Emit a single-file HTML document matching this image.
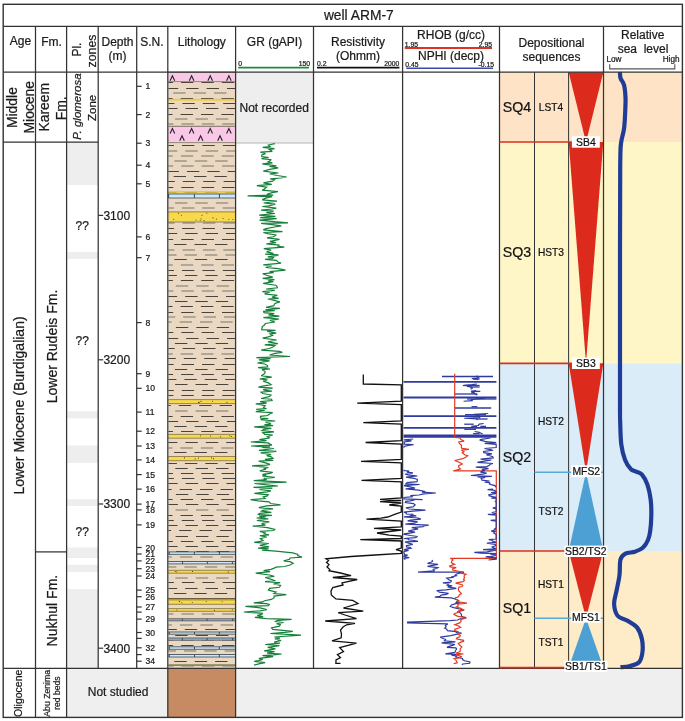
<!DOCTYPE html>
<html><head><meta charset="utf-8"><style>
html,body{margin:0;padding:0;background:#fff;overflow:hidden}
svg{display:block;will-change:transform}
text{font-family:"Liberation Sans",sans-serif;stroke:#1a1a1a;stroke-width:0.22px;paint-order:stroke}
</style></head><body>
<svg width="685" height="721" viewBox="0 0 685 721" font-family="Liberation Sans, sans-serif">
<rect x="0" y="0" width="685" height="721" fill="#ffffff" />
<rect x="499.5" y="72.2" width="182.89999999999998" height="69.8" fill="#FEE3C6" />
<rect x="499.5" y="142.0" width="182.89999999999998" height="221.39999999999998" fill="#FFF6C8" />
<rect x="499.5" y="363.4" width="182.89999999999998" height="187.60000000000002" fill="#DAECF8" />
<rect x="499.5" y="551.0" width="182.89999999999998" height="117.29999999999995" fill="#FEEBC8" />
<rect x="66.6" y="142" width="31.60000000000001" height="43" fill="#EEEEEE" />
<rect x="66.6" y="252" width="31.60000000000001" height="7" fill="#EEEEEE" />
<rect x="66.6" y="411.3" width="31.60000000000001" height="7.0" fill="#EEEEEE" />
<rect x="66.6" y="445.5" width="31.60000000000001" height="17.5" fill="#EEEEEE" />
<rect x="66.6" y="499.2" width="31.60000000000001" height="6.800000000000011" fill="#EEEEEE" />
<rect x="66.6" y="547.5" width="31.60000000000001" height="10.5" fill="#EEEEEE" />
<rect x="66.6" y="564.8" width="31.60000000000001" height="7.2000000000000455" fill="#EEEEEE" />
<rect x="66.6" y="589" width="31.60000000000001" height="79.29999999999995" fill="#EEEEEE" />
<rect x="235.6" y="72.2" width="77.9" height="70.8" fill="#EEEEEE" />
<line x1="235.6" y1="143" x2="313.5" y2="143" stroke="#b5b5b5" stroke-width="1.2" />
<rect x="66.6" y="668.3" width="101.20000000000002" height="49.10000000000002" fill="#EFEFEF" />
<rect x="235.6" y="668.3" width="446.79999999999995" height="49.10000000000002" fill="#EFEFEF" />
<rect x="167.8" y="668.3" width="67.79999999999998" height="49.10000000000002" fill="#C68B62" />
<rect x="168.4" y="72.2" width="66.6" height="596.0999999999999" fill="#EAD8C3" />
<path d="M173.9 77.5H186.3M194.3 77.5H206.7M214.7 77.5H227.1" stroke="#4a433c" stroke-width="1.0" fill="none"/>
<path d="M168.4 82.5H173.0M181.0 82.5H193.4M201.4 82.5H213.8M221.8 82.5H234.2" stroke="#4a433c" stroke-width="1.0" fill="none"/>
<path d="M168.4 88.5H178.2M186.2 88.5H198.6M206.6 88.5H219.0M227.0 88.5H235.0" stroke="#4a433c" stroke-width="1.0" fill="none"/>
<path d="M173.2 93.0H185.6M193.6 93.0H206.0M214.0 93.0H226.4" stroke="#a09686" stroke-width="1.6" fill="none"/>
<path d="M168.4 98.5H172.7M180.7 98.5H193.1M201.1 98.5H213.5M221.5 98.5H233.9" stroke="#4a433c" stroke-width="1.0" fill="none"/>
<path d="M168.4 103.5H174.4M182.4 103.5H194.8M202.8 103.5H215.2M223.2 103.5H235.0" stroke="#4a433c" stroke-width="1.0" fill="none"/>
<path d="M168.4 108.5H177.6M185.6 108.5H198.0M206.0 108.5H218.4M226.4 108.5H235.0" stroke="#4a433c" stroke-width="1.0" fill="none"/>
<path d="M168.4 114.5H172.6M180.6 114.5H193.0M201.0 114.5H213.4M221.4 114.5H233.8" stroke="#4a433c" stroke-width="1.0" fill="none"/>
<path d="M175.1 119.0H187.5M195.5 119.0H207.9M215.9 119.0H228.3" stroke="#a09686" stroke-width="1.6" fill="none"/>
<path d="M168.4 124.0H173.5M181.5 124.0H193.9M201.9 124.0H214.3M222.3 124.0H234.7" stroke="#a09686" stroke-width="1.6" fill="none"/>
<path d="M168.4 129.5H178.3M186.3 129.5H198.7M206.7 129.5H219.1M227.1 129.5H235.0" stroke="#4a433c" stroke-width="1.0" fill="none"/>
<path d="M175.5 134.5H187.9M195.9 134.5H208.3M216.3 134.5H228.7" stroke="#4a433c" stroke-width="1.0" fill="none"/>
<path d="M168.4 140.5H172.8M180.8 140.5H193.2M201.2 140.5H213.6M221.6 140.5H234.0" stroke="#4a433c" stroke-width="1.0" fill="none"/>
<path d="M168.4 145.5H174.0M182.0 145.5H194.4M202.4 145.5H214.8M222.8 145.5H235.0" stroke="#4a433c" stroke-width="1.0" fill="none"/>
<path d="M168.4 151.0H177.3M185.3 151.0H197.7M205.7 151.0H218.1M226.1 151.0H235.0" stroke="#a09686" stroke-width="1.6" fill="none"/>
<path d="M168.4 156.0H172.8M180.8 156.0H193.2M201.2 156.0H213.6M221.6 156.0H234.0" stroke="#a09686" stroke-width="1.6" fill="none"/>
<path d="M174.4 161.0H186.8M194.8 161.0H207.2M215.2 161.0H227.6" stroke="#a09686" stroke-width="1.6" fill="none"/>
<path d="M168.4 166.0H173.2M181.2 166.0H193.6M201.6 166.0H214.0M222.0 166.0H234.4" stroke="#a09686" stroke-width="1.6" fill="none"/>
<path d="M168.4 171.5H178.9M186.9 171.5H199.3M207.3 171.5H219.7M227.7 171.5H235.0" stroke="#4a433c" stroke-width="1.0" fill="none"/>
<path d="M173.6 176.5H186.0M194.0 176.5H206.4M214.4 176.5H226.8" stroke="#4a433c" stroke-width="1.0" fill="none"/>
<path d="M168.4 181.5H174.8M182.8 181.5H195.2M203.2 181.5H215.6M223.6 181.5H235.0" stroke="#4a433c" stroke-width="1.0" fill="none"/>
<path d="M168.4 187.5H173.3M181.3 187.5H193.7M201.7 187.5H214.1M222.1 187.5H234.5" stroke="#4a433c" stroke-width="1.0" fill="none"/>
<path d="M168.4 192.5H176.6M184.6 192.5H197.0M205.0 192.5H217.4M225.4 192.5H235.0" stroke="#4a433c" stroke-width="1.0" fill="none"/>
<path d="M168.4 197.5H171.8M179.8 197.5H192.2M200.2 197.5H212.6M220.6 197.5H233.0" stroke="#4a433c" stroke-width="1.0" fill="none"/>
<path d="M175.0 203.0H187.4M195.4 203.0H207.8M215.8 203.0H228.2" stroke="#a09686" stroke-width="1.6" fill="none"/>
<path d="M168.4 208.0H173.9M181.9 208.0H194.3M202.3 208.0H214.7M222.7 208.0H235.0" stroke="#a09686" stroke-width="1.6" fill="none"/>
<path d="M168.4 213.0H178.9M186.9 213.0H199.3M207.3 213.0H219.7M227.7 213.0H235.0" stroke="#a09686" stroke-width="1.6" fill="none"/>
<path d="M175.2 218.5H187.6M195.6 218.5H208.0M216.0 218.5H228.4" stroke="#4a433c" stroke-width="1.0" fill="none"/>
<path d="M168.4 223.0H174.5M182.5 223.0H194.9M202.9 223.0H215.3M223.3 223.0H235.0" stroke="#a09686" stroke-width="1.6" fill="none"/>
<path d="M168.4 228.5H174.1M182.1 228.5H194.5M202.5 228.5H214.9M222.9 228.5H235.0" stroke="#4a433c" stroke-width="1.0" fill="none"/>
<path d="M168.4 233.5H177.2M185.2 233.5H197.6M205.6 233.5H218.0M226.0 233.5H235.0" stroke="#4a433c" stroke-width="1.0" fill="none"/>
<path d="M168.4 239.5H173.2M181.2 239.5H193.6M201.6 239.5H214.0M222.0 239.5H234.4" stroke="#4a433c" stroke-width="1.0" fill="none"/>
<path d="M174.1 244.5H186.5M194.5 244.5H206.9M214.9 244.5H227.3" stroke="#4a433c" stroke-width="1.0" fill="none"/>
<path d="M168.4 250.0H174.5M182.5 250.0H194.9M202.9 250.0H215.3M223.3 250.0H235.0" stroke="#a09686" stroke-width="1.6" fill="none"/>
<path d="M168.4 255.0H176.6M184.6 255.0H197.0M205.0 255.0H217.4M225.4 255.0H235.0" stroke="#a09686" stroke-width="1.6" fill="none"/>
<path d="M174.4 259.5H186.8M194.8 259.5H207.2M215.2 259.5H227.6" stroke="#4a433c" stroke-width="1.0" fill="none"/>
<path d="M168.4 265.0H172.8M180.8 265.0H193.2M201.2 265.0H213.6M221.6 265.0H234.0" stroke="#a09686" stroke-width="1.6" fill="none"/>
<path d="M168.4 270.5H174.0M182.0 270.5H194.4M202.4 270.5H214.8M222.8 270.5H235.0" stroke="#4a433c" stroke-width="1.0" fill="none"/>
<path d="M168.4 275.5H176.9M184.9 275.5H197.3M205.3 275.5H217.7M225.7 275.5H235.0" stroke="#4a433c" stroke-width="1.0" fill="none"/>
<path d="M168.4 280.5H172.9M180.9 280.5H193.3M201.3 280.5H213.7M221.7 280.5H234.1" stroke="#4a433c" stroke-width="1.0" fill="none"/>
<path d="M175.8 286.0H188.2M196.2 286.0H208.6M216.6 286.0H229.0" stroke="#a09686" stroke-width="1.6" fill="none"/>
<path d="M168.4 291.0H173.4M181.4 291.0H193.8M201.8 291.0H214.2M222.2 291.0H234.6" stroke="#a09686" stroke-width="1.6" fill="none"/>
<path d="M168.4 296.5H177.2M185.2 296.5H197.6M205.6 296.5H218.0M226.0 296.5H235.0" stroke="#4a433c" stroke-width="1.0" fill="none"/>
<path d="M175.0 301.5H187.4M195.4 301.5H207.8M215.8 301.5H228.2" stroke="#4a433c" stroke-width="1.0" fill="none"/>
<path d="M168.4 306.5H172.5M180.5 306.5H192.9M200.9 306.5H213.3M221.3 306.5H233.7" stroke="#4a433c" stroke-width="1.0" fill="none"/>
<path d="M168.4 312.5H173.2M181.2 312.5H193.6M201.6 312.5H214.0M222.0 312.5H234.4" stroke="#4a433c" stroke-width="1.0" fill="none"/>
<path d="M168.4 317.0H175.2M183.2 317.0H195.6M203.6 317.0H216.0M224.0 317.0H235.0" stroke="#a09686" stroke-width="1.6" fill="none"/>
<path d="M168.4 322.0H171.6M179.6 322.0H192.0M200.0 322.0H212.4M220.4 322.0H232.8" stroke="#a09686" stroke-width="1.6" fill="none"/>
<path d="M175.9 327.5H188.3M196.3 327.5H208.7M216.7 327.5H229.1" stroke="#4a433c" stroke-width="1.0" fill="none"/>
<path d="M168.4 332.5H173.3M181.3 332.5H193.7M201.7 332.5H214.1M222.1 332.5H234.5" stroke="#4a433c" stroke-width="1.0" fill="none"/>
<path d="M168.4 338.5H178.2M186.2 338.5H198.6M206.6 338.5H219.0M227.0 338.5H235.0" stroke="#4a433c" stroke-width="1.0" fill="none"/>
<path d="M174.9 343.5H187.3M195.3 343.5H207.7M215.7 343.5H228.1" stroke="#4a433c" stroke-width="1.0" fill="none"/>
<path d="M168.4 348.5H174.7M182.7 348.5H195.1M203.1 348.5H215.5M223.5 348.5H235.0" stroke="#4a433c" stroke-width="1.0" fill="none"/>
<path d="M168.4 354.0H172.7M180.7 354.0H193.1M201.1 354.0H213.5M221.5 354.0H233.9" stroke="#a09686" stroke-width="1.6" fill="none"/>
<path d="M168.4 358.5H175.8M183.8 358.5H196.2M204.2 358.5H216.6M224.6 358.5H235.0" stroke="#4a433c" stroke-width="1.0" fill="none"/>
<path d="M168.4 364.5H173.6M181.6 364.5H194.0M202.0 364.5H214.4M222.4 364.5H234.8" stroke="#4a433c" stroke-width="1.0" fill="none"/>
<path d="M174.8 369.5H187.2M195.2 369.5H207.6M215.6 369.5H228.0" stroke="#4a433c" stroke-width="1.0" fill="none"/>
<path d="M168.4 374.5H173.1M181.1 374.5H193.5M201.5 374.5H213.9M221.9 374.5H234.3" stroke="#4a433c" stroke-width="1.0" fill="none"/>
<path d="M168.4 379.5H176.4M184.4 379.5H196.8M204.8 379.5H217.2M225.2 379.5H235.0" stroke="#4a433c" stroke-width="1.0" fill="none"/>
<path d="M175.1 384.5H187.5M195.5 384.5H207.9M215.9 384.5H228.3" stroke="#4a433c" stroke-width="1.0" fill="none"/>
<path d="M168.4 390.5H173.8M181.8 390.5H194.2M202.2 390.5H214.6M222.6 390.5H235.0" stroke="#4a433c" stroke-width="1.0" fill="none"/>
<path d="M168.4 395.5H173.4M181.4 395.5H193.8M201.8 395.5H214.2M222.2 395.5H234.6" stroke="#4a433c" stroke-width="1.0" fill="none"/>
<path d="M168.4 401.0H177.2M185.2 401.0H197.6M205.6 401.0H218.0M226.0 401.0H235.0" stroke="#a09686" stroke-width="1.6" fill="none"/>
<path d="M168.4 405.5H170.8M178.8 405.5H191.2M199.2 405.5H211.6M219.6 405.5H232.0" stroke="#4a433c" stroke-width="1.0" fill="none"/>
<path d="M175.2 411.0H187.6M195.6 411.0H208.0M216.0 411.0H228.4" stroke="#a09686" stroke-width="1.6" fill="none"/>
<path d="M168.4 416.5H172.7M180.7 416.5H193.1M201.1 416.5H213.5M221.5 416.5H233.9" stroke="#4a433c" stroke-width="1.0" fill="none"/>
<path d="M168.4 421.5H178.1M186.1 421.5H198.5M206.5 421.5H218.9M226.9 421.5H235.0" stroke="#4a433c" stroke-width="1.0" fill="none"/>
<path d="M174.3 426.5H186.7M194.7 426.5H207.1M215.1 426.5H227.5" stroke="#4a433c" stroke-width="1.0" fill="none"/>
<path d="M168.4 431.5H173.0M181.0 431.5H193.4M201.4 431.5H213.8M221.8 431.5H234.2" stroke="#4a433c" stroke-width="1.0" fill="none"/>
<path d="M168.4 437.5H172.3M180.3 437.5H192.7M200.7 437.5H213.1M221.1 437.5H233.5" stroke="#4a433c" stroke-width="1.0" fill="none"/>
<path d="M168.4 442.5H177.4M185.4 442.5H197.8M205.8 442.5H218.2M226.2 442.5H235.0" stroke="#4a433c" stroke-width="1.0" fill="none"/>
<path d="M168.4 448.0H172.4M180.4 448.0H192.8M200.8 448.0H213.2M221.2 448.0H233.6" stroke="#a09686" stroke-width="1.6" fill="none"/>
<path d="M174.1 452.5H186.5M194.5 452.5H206.9M214.9 452.5H227.3" stroke="#4a433c" stroke-width="1.0" fill="none"/>
<path d="M168.4 457.5H174.3M182.3 457.5H194.7M202.7 457.5H215.1M223.1 457.5H235.0" stroke="#4a433c" stroke-width="1.0" fill="none"/>
<path d="M168.4 463.5H176.9M184.9 463.5H197.3M205.3 463.5H217.7M225.7 463.5H235.0" stroke="#4a433c" stroke-width="1.0" fill="none"/>
<path d="M175.3 468.5H187.7M195.7 468.5H208.1M216.1 468.5H228.5" stroke="#4a433c" stroke-width="1.0" fill="none"/>
<path d="M168.4 473.5H172.9M180.9 473.5H193.3M201.3 473.5H213.7M221.7 473.5H234.1" stroke="#4a433c" stroke-width="1.0" fill="none"/>
<path d="M168.4 478.5H173.9M181.9 478.5H194.3M202.3 478.5H214.7M222.7 478.5H235.0" stroke="#4a433c" stroke-width="1.0" fill="none"/>
<path d="M168.4 483.5H177.7M185.7 483.5H198.1M206.1 483.5H218.5M226.5 483.5H235.0" stroke="#4a433c" stroke-width="1.0" fill="none"/>
<path d="M168.4 489.5H171.7M179.7 489.5H192.1M200.1 489.5H212.5M220.5 489.5H232.9" stroke="#4a433c" stroke-width="1.0" fill="none"/>
<path d="M175.9 494.5H188.3M196.3 494.5H208.7M216.7 494.5H229.1" stroke="#4a433c" stroke-width="1.0" fill="none"/>
<path d="M168.4 499.5H172.6M180.6 499.5H193.0M201.0 499.5H213.4M221.4 499.5H233.8" stroke="#4a433c" stroke-width="1.0" fill="none"/>
<path d="M168.4 504.5H177.9M185.9 504.5H198.3M206.3 504.5H218.7M226.7 504.5H235.0" stroke="#4a433c" stroke-width="1.0" fill="none"/>
<path d="M175.6 510.0H188.0M196.0 510.0H208.4M216.4 510.0H228.8" stroke="#a09686" stroke-width="1.6" fill="none"/>
<path d="M168.4 515.5H172.5M180.5 515.5H192.9M200.9 515.5H213.3M221.3 515.5H233.7" stroke="#4a433c" stroke-width="1.0" fill="none"/>
<path d="M168.4 520.5H173.8M181.8 520.5H194.2M202.2 520.5H214.6M222.6 520.5H235.0" stroke="#4a433c" stroke-width="1.0" fill="none"/>
<path d="M168.4 525.5H177.5M185.5 525.5H197.9M205.9 525.5H218.3M226.3 525.5H235.0" stroke="#4a433c" stroke-width="1.0" fill="none"/>
<path d="M168.4 530.5H171.1M179.1 530.5H191.5M199.5 530.5H211.9M219.9 530.5H232.3" stroke="#4a433c" stroke-width="1.0" fill="none"/>
<path d="M175.6 536.5H188.0M196.0 536.5H208.4M216.4 536.5H228.8" stroke="#4a433c" stroke-width="1.0" fill="none"/>
<path d="M168.4 541.5H172.9M180.9 541.5H193.3M201.3 541.5H213.7M221.7 541.5H234.1" stroke="#4a433c" stroke-width="1.0" fill="none"/>
<path d="M168.4 546.5H177.6M185.6 546.5H198.0M206.0 546.5H218.4M226.4 546.5H235.0" stroke="#4a433c" stroke-width="1.0" fill="none"/>
<path d="M176.0 551.5H188.4M196.4 551.5H208.8M216.8 551.5H229.2" stroke="#4a433c" stroke-width="1.0" fill="none"/>
<path d="M168.4 557.0H171.9M179.9 557.0H192.3M200.3 557.0H212.7M220.7 557.0H233.1" stroke="#a09686" stroke-width="1.6" fill="none"/>
<path d="M168.4 562.0H174.0M182.0 562.0H194.4M202.4 562.0H214.8M222.8 562.0H235.0" stroke="#a09686" stroke-width="1.6" fill="none"/>
<path d="M168.4 567.0H176.4M184.4 567.0H196.8M204.8 567.0H217.2M225.2 567.0H235.0" stroke="#a09686" stroke-width="1.6" fill="none"/>
<path d="M168.4 572.5H173.5M181.5 572.5H193.9M201.9 572.5H214.3M222.3 572.5H234.7" stroke="#4a433c" stroke-width="1.0" fill="none"/>
<path d="M175.4 578.0H187.8M195.8 578.0H208.2M216.2 578.0H228.6" stroke="#a09686" stroke-width="1.6" fill="none"/>
<path d="M168.4 582.5H173.9M181.9 582.5H194.3M202.3 582.5H214.7M222.7 582.5H235.0" stroke="#4a433c" stroke-width="1.0" fill="none"/>
<path d="M168.4 588.5H177.2M185.2 588.5H197.6M205.6 588.5H218.0M226.0 588.5H235.0" stroke="#4a433c" stroke-width="1.0" fill="none"/>
<path d="M173.9 593.5H186.3M194.3 593.5H206.7M214.7 593.5H227.1" stroke="#4a433c" stroke-width="1.0" fill="none"/>
<path d="M168.4 598.5H173.7M181.7 598.5H194.1M202.1 598.5H214.5M222.5 598.5H234.9" stroke="#4a433c" stroke-width="1.0" fill="none"/>
<path d="M168.4 603.5H173.8M181.8 603.5H194.2M202.2 603.5H214.6M222.6 603.5H235.0" stroke="#4a433c" stroke-width="1.0" fill="none"/>
<path d="M168.4 609.5H177.8M185.8 609.5H198.2M206.2 609.5H218.6M226.6 609.5H235.0" stroke="#4a433c" stroke-width="1.0" fill="none"/>
<path d="M168.4 614.0H173.5M181.5 614.0H193.9M201.9 614.0H214.3M222.3 614.0H234.7" stroke="#a09686" stroke-width="1.6" fill="none"/>
<path d="M175.9 619.5H188.3M196.3 619.5H208.7M216.7 619.5H229.1" stroke="#4a433c" stroke-width="1.0" fill="none"/>
<path d="M168.4 625.0H171.9M179.9 625.0H192.3M200.3 625.0H212.7M220.7 625.0H233.1" stroke="#a09686" stroke-width="1.6" fill="none"/>
<path d="M168.4 629.5H176.8M184.8 629.5H197.2M205.2 629.5H217.6M225.6 629.5H235.0" stroke="#4a433c" stroke-width="1.0" fill="none"/>
<path d="M175.2 635.5H187.6M195.6 635.5H208.0M216.0 635.5H228.4" stroke="#4a433c" stroke-width="1.0" fill="none"/>
<path d="M168.4 640.0H173.1M181.1 640.0H193.5M201.5 640.0H213.9M221.9 640.0H234.3" stroke="#a09686" stroke-width="1.6" fill="none"/>
<path d="M168.4 645.5H173.2M181.2 645.5H193.6M201.6 645.5H214.0M222.0 645.5H234.4" stroke="#4a433c" stroke-width="1.0" fill="none"/>
<path d="M168.4 651.0H175.9M183.9 651.0H196.3M204.3 651.0H216.7M224.7 651.0H235.0" stroke="#a09686" stroke-width="1.6" fill="none"/>
<path d="M168.4 656.0H172.1M180.1 656.0H192.5M200.5 656.0H212.9M220.9 656.0H233.3" stroke="#a09686" stroke-width="1.6" fill="none"/>
<path d="M174.3 661.5H186.7M194.7 661.5H207.1M215.1 661.5H227.5" stroke="#4a433c" stroke-width="1.0" fill="none"/>
<path d="M168.4 666.0H173.5M181.5 666.0H193.9M201.9 666.0H214.3M222.3 666.0H234.7" stroke="#a09686" stroke-width="1.6" fill="none"/>
<rect x="168.4" y="72.2" width="66.6" height="9.399999999999991" fill="#F9C8E6" />
<line x1="168.4" y1="72.2" x2="235.0" y2="72.2" stroke="#6e6458" stroke-width="0.9" />
<line x1="168.4" y1="81.6" x2="235.0" y2="81.6" stroke="#8a8070" stroke-width="0.9" />
<path d="M170.1 80.7L172.4 75.7L174.7 80.7" stroke="#222" stroke-width="1.1" fill="none"/>
<path d="M189.3 80.7L191.6 75.7L193.9 80.7" stroke="#222" stroke-width="1.1" fill="none"/>
<path d="M207.9 80.7L210.2 75.7L212.5 80.7" stroke="#222" stroke-width="1.1" fill="none"/>
<path d="M226.6 80.7L228.9 75.7L231.2 80.7" stroke="#222" stroke-width="1.1" fill="none"/>
<rect x="168.4" y="98.8" width="66.6" height="1.8" fill="#EBCB3A" />
<rect x="168.4" y="126.3" width="66.6" height="16.299999999999997" fill="#F9C8E6" />
<line x1="168.4" y1="126.3" x2="235.0" y2="126.3" stroke="#6e6458" stroke-width="0.9" />
<line x1="168.4" y1="142.6" x2="235.0" y2="142.6" stroke="#8a8070" stroke-width="0.9" />
<path d="M170.1 133.5L172.4 128.5L174.7 133.5" stroke="#222" stroke-width="1.1" fill="none"/>
<path d="M189.3 133.5L191.6 128.5L193.9 133.5" stroke="#222" stroke-width="1.1" fill="none"/>
<path d="M207.9 133.5L210.2 128.5L212.5 133.5" stroke="#222" stroke-width="1.1" fill="none"/>
<path d="M226.6 133.5L228.9 128.5L231.2 133.5" stroke="#222" stroke-width="1.1" fill="none"/>
<path d="M179.7 140.7L182.0 135.7L184.3 140.7" stroke="#222" stroke-width="1.1" fill="none"/>
<path d="M198.3 140.7L200.6 135.7L202.9 140.7" stroke="#222" stroke-width="1.1" fill="none"/>
<path d="M217.7 140.7L220.0 135.7L222.3 140.7" stroke="#222" stroke-width="1.1" fill="none"/>
<rect x="168.4" y="191.0" width="66.6" height="1.8" fill="#EBCB3A" />
<rect x="168.4" y="194.0" width="66.6" height="4.0" fill="#C8EAFA" />
<line x1="168.4" y1="194.0" x2="235.0" y2="194.0" stroke="#3f4852" stroke-width="0.85" />
<line x1="168.4" y1="198.0" x2="235.0" y2="198.0" stroke="#3f4852" stroke-width="0.8" />
<line x1="168.6" y1="194.0" x2="168.6" y2="198.0" stroke="#3f4852" stroke-width="1.0" />
<line x1="194.4" y1="194.0" x2="194.4" y2="198.0" stroke="#3f4852" stroke-width="1.0" />
<line x1="219.4" y1="194.0" x2="219.4" y2="198.0" stroke="#3f4852" stroke-width="1.0" />
<rect x="168.4" y="211.9" width="66.6" height="10.099999999999994" fill="#F8D94C" />
<line x1="168.4" y1="211.9" x2="235.0" y2="211.9" stroke="#6f6236" stroke-width="0.7" />
<line x1="168.4" y1="222.0" x2="235.0" y2="222.0" stroke="#6f6236" stroke-width="0.7" />
<circle cx="181.4" cy="215.2" r="0.55" fill="#4a4020"/>
<circle cx="216.4" cy="219.1" r="0.55" fill="#4a4020"/>
<circle cx="213.0" cy="217.9" r="0.55" fill="#4a4020"/>
<circle cx="201.0" cy="218.8" r="0.55" fill="#4a4020"/>
<circle cx="173.7" cy="219.3" r="0.55" fill="#4a4020"/>
<circle cx="196.0" cy="220.0" r="0.55" fill="#4a4020"/>
<circle cx="228.8" cy="219.3" r="0.55" fill="#4a4020"/>
<circle cx="223.1" cy="218.5" r="0.55" fill="#4a4020"/>
<circle cx="206.8" cy="213.0" r="0.55" fill="#4a4020"/>
<circle cx="200.2" cy="220.3" r="0.55" fill="#4a4020"/>
<circle cx="204.0" cy="220.5" r="0.55" fill="#4a4020"/>
<circle cx="232.9" cy="219.5" r="0.55" fill="#4a4020"/>
<circle cx="178.5" cy="213.2" r="0.55" fill="#4a4020"/>
<circle cx="202.0" cy="215.2" r="0.55" fill="#4a4020"/>
<rect x="168.4" y="399.6" width="66.6" height="4.0" fill="#F8D94C" />
<line x1="168.4" y1="399.6" x2="235.0" y2="399.6" stroke="#6f6236" stroke-width="0.7" />
<line x1="168.4" y1="403.6" x2="235.0" y2="403.6" stroke="#6f6236" stroke-width="0.7" />
<circle cx="198.5" cy="402.4" r="0.55" fill="#4a4020"/>
<circle cx="201.0" cy="401.4" r="0.55" fill="#4a4020"/>
<circle cx="212.5" cy="401.3" r="0.55" fill="#4a4020"/>
<circle cx="199.1" cy="402.4" r="0.55" fill="#4a4020"/>
<circle cx="226.9" cy="402.4" r="0.55" fill="#4a4020"/>
<rect x="168.4" y="434.4" width="66.6" height="3.8000000000000114" fill="#F8D94C" />
<line x1="168.4" y1="434.4" x2="235.0" y2="434.4" stroke="#6f6236" stroke-width="0.7" />
<line x1="168.4" y1="438.2" x2="235.0" y2="438.2" stroke="#6f6236" stroke-width="0.7" />
<circle cx="210.5" cy="436.0" r="0.55" fill="#4a4020"/>
<circle cx="200.5" cy="435.8" r="0.55" fill="#4a4020"/>
<circle cx="231.6" cy="436.5" r="0.55" fill="#4a4020"/>
<circle cx="229.9" cy="435.9" r="0.55" fill="#4a4020"/>
<circle cx="220.5" cy="436.7" r="0.55" fill="#4a4020"/>
<rect x="168.4" y="456.5" width="66.6" height="4.199999999999989" fill="#F8D94C" />
<line x1="168.4" y1="456.5" x2="235.0" y2="456.5" stroke="#6f6236" stroke-width="0.7" />
<line x1="168.4" y1="460.7" x2="235.0" y2="460.7" stroke="#6f6236" stroke-width="0.7" />
<circle cx="211.6" cy="457.9" r="0.55" fill="#4a4020"/>
<circle cx="198.5" cy="458.1" r="0.55" fill="#4a4020"/>
<circle cx="195.1" cy="458.9" r="0.55" fill="#4a4020"/>
<circle cx="184.5" cy="457.9" r="0.55" fill="#4a4020"/>
<circle cx="213.5" cy="458.6" r="0.55" fill="#4a4020"/>
<rect x="168.4" y="551.9" width="66.6" height="2.5" fill="#C8EAFA" />
<line x1="168.4" y1="551.9" x2="235.0" y2="551.9" stroke="#3f4852" stroke-width="0.85" />
<line x1="168.4" y1="554.4" x2="235.0" y2="554.4" stroke="#3f4852" stroke-width="0.8" />
<line x1="169.2" y1="551.9" x2="169.2" y2="554.4" stroke="#3f4852" stroke-width="1.0" />
<line x1="194.4" y1="551.9" x2="194.4" y2="554.4" stroke="#3f4852" stroke-width="1.0" />
<line x1="219.4" y1="551.9" x2="219.4" y2="554.4" stroke="#3f4852" stroke-width="1.0" />
<rect x="168.4" y="561.5" width="66.6" height="2.3999999999999773" fill="#C8EAFA" />
<line x1="168.4" y1="561.5" x2="235.0" y2="561.5" stroke="#3f4852" stroke-width="0.85" />
<line x1="168.4" y1="563.9" x2="235.0" y2="563.9" stroke="#3f4852" stroke-width="0.8" />
<line x1="182.5" y1="561.5" x2="182.5" y2="563.9" stroke="#3f4852" stroke-width="1.0" />
<line x1="207.4" y1="561.5" x2="207.4" y2="563.9" stroke="#3f4852" stroke-width="1.0" />
<line x1="232.4" y1="561.5" x2="232.4" y2="563.9" stroke="#3f4852" stroke-width="1.0" />
<rect x="168.4" y="570.3" width="66.6" height="2.900000000000091" fill="#F8D94C" />
<line x1="168.4" y1="570.3" x2="235.0" y2="570.3" stroke="#6f6236" stroke-width="0.7" />
<line x1="168.4" y1="573.2" x2="235.0" y2="573.2" stroke="#6f6236" stroke-width="0.7" />
<circle cx="176.8" cy="571.7" r="0.55" fill="#4a4020"/>
<circle cx="175.3" cy="571.5" r="0.55" fill="#4a4020"/>
<circle cx="228.2" cy="571.9" r="0.55" fill="#4a4020"/>
<circle cx="192.4" cy="571.4" r="0.55" fill="#4a4020"/>
<line x1="168.4" y1="598.7" x2="235.0" y2="598.7" stroke="#6a6040" stroke-width="1.2" />
<rect x="168.4" y="599.9" width="66.6" height="4.399999999999977" fill="#F8D94C" />
<line x1="168.4" y1="599.9" x2="235.0" y2="599.9" stroke="#6f6236" stroke-width="0.7" />
<line x1="168.4" y1="604.3" x2="235.0" y2="604.3" stroke="#6f6236" stroke-width="0.7" />
<circle cx="192.3" cy="602.5" r="0.55" fill="#4a4020"/>
<circle cx="179.4" cy="601.4" r="0.55" fill="#4a4020"/>
<circle cx="179.5" cy="601.6" r="0.55" fill="#4a4020"/>
<circle cx="222.1" cy="601.7" r="0.55" fill="#4a4020"/>
<circle cx="206.2" cy="601.5" r="0.55" fill="#4a4020"/>
<circle cx="181.9" cy="602.8" r="0.55" fill="#4a4020"/>
<rect x="168.4" y="608.6" width="66.6" height="2.699999999999932" fill="#F8D94C" />
<line x1="168.4" y1="608.6" x2="235.0" y2="608.6" stroke="#6f6236" stroke-width="0.7" />
<line x1="168.4" y1="611.3" x2="235.0" y2="611.3" stroke="#6f6236" stroke-width="0.7" />
<circle cx="232.3" cy="609.8" r="0.55" fill="#4a4020"/>
<circle cx="214.5" cy="610.3" r="0.55" fill="#4a4020"/>
<circle cx="176.8" cy="610.0" r="0.55" fill="#4a4020"/>
<rect x="168.4" y="618.8" width="66.6" height="2.0" fill="#A3C3D8" />
<line x1="168.4" y1="618.8" x2="235.0" y2="618.8" stroke="#3f4852" stroke-width="0.85" />
<line x1="168.4" y1="620.8" x2="235.0" y2="620.8" stroke="#3f4852" stroke-width="0.8" />
<line x1="182.3" y1="618.8" x2="182.3" y2="620.8" stroke="#3f4852" stroke-width="1.0" />
<line x1="207.1" y1="618.8" x2="207.1" y2="620.8" stroke="#3f4852" stroke-width="1.0" />
<line x1="232.6" y1="618.8" x2="232.6" y2="620.8" stroke="#3f4852" stroke-width="1.0" />
<rect x="168.4" y="632.0" width="66.6" height="2.2000000000000455" fill="#C8EAFA" />
<line x1="168.4" y1="632.0" x2="235.0" y2="632.0" stroke="#3f4852" stroke-width="0.85" />
<line x1="168.4" y1="634.2" x2="235.0" y2="634.2" stroke="#3f4852" stroke-width="0.8" />
<line x1="169.3" y1="632.0" x2="169.3" y2="634.2" stroke="#3f4852" stroke-width="1.0" />
<line x1="194.5" y1="632.0" x2="194.5" y2="634.2" stroke="#3f4852" stroke-width="1.0" />
<line x1="219.3" y1="632.0" x2="219.3" y2="634.2" stroke="#3f4852" stroke-width="1.0" />
<rect x="168.4" y="638.0" width="66.6" height="2.2000000000000455" fill="#A3C3D8" />
<line x1="168.4" y1="638.0" x2="235.0" y2="638.0" stroke="#3f4852" stroke-width="0.85" />
<line x1="168.4" y1="640.2" x2="235.0" y2="640.2" stroke="#3f4852" stroke-width="0.8" />
<line x1="182.3" y1="638.0" x2="182.3" y2="640.2" stroke="#3f4852" stroke-width="1.0" />
<line x1="207.1" y1="638.0" x2="207.1" y2="640.2" stroke="#3f4852" stroke-width="1.0" />
<line x1="232.6" y1="638.0" x2="232.6" y2="640.2" stroke="#3f4852" stroke-width="1.0" />
<rect x="168.4" y="646.8" width="66.6" height="2.5" fill="#C8EAFA" />
<line x1="168.4" y1="646.8" x2="235.0" y2="646.8" stroke="#3f4852" stroke-width="0.85" />
<line x1="168.4" y1="649.3" x2="235.0" y2="649.3" stroke="#3f4852" stroke-width="0.8" />
<line x1="169.3" y1="646.8" x2="169.3" y2="649.3" stroke="#3f4852" stroke-width="1.0" />
<line x1="194.5" y1="646.8" x2="194.5" y2="649.3" stroke="#3f4852" stroke-width="1.0" />
<line x1="219.3" y1="646.8" x2="219.3" y2="649.3" stroke="#3f4852" stroke-width="1.0" />
<rect x="168.4" y="654.5" width="66.6" height="2.5" fill="#C8EAFA" />
<line x1="168.4" y1="654.5" x2="235.0" y2="654.5" stroke="#3f4852" stroke-width="0.85" />
<line x1="168.4" y1="657.0" x2="235.0" y2="657.0" stroke="#3f4852" stroke-width="0.8" />
<line x1="169.3" y1="654.5" x2="169.3" y2="657.0" stroke="#3f4852" stroke-width="1.0" />
<line x1="194.5" y1="654.5" x2="194.5" y2="657.0" stroke="#3f4852" stroke-width="1.0" />
<line x1="219.3" y1="654.5" x2="219.3" y2="657.0" stroke="#3f4852" stroke-width="1.0" />
<rect x="168.4" y="664.2" width="66.6" height="1.8" fill="#8c8a5a" />
<path d="M274.9 143.6L268.4 145.0L270.0 146.6L262.7 147.3L274.5 148.6L269.3 149.6L272.3 151.3L260.4 152.2L265.5 153.7L261.9 154.9L261.7 156.5L268.7 157.7L261.5 158.6L270.8 159.6L270.6 160.4L268.1 161.8L272.4 162.8L262.3 163.9L276.4 165.8L269.5 166.5L278.2 167.9L268.6 169.6L263.3 171.2L278.4 173.0L269.8 173.8L277.3 175.5L286.6 177.0L280.9 178.0L270.2 178.9L274.7 179.7L272.6 181.1L263.4 182.9L271.8 184.3L256.8 185.6L266.5 187.1L264.3 188.9L262.2 190.2L277.9 191.6L272.0 192.7L266.8 194.3L273.2 195.2L247.6 195.8L272.1 196.7L265.6 198.1L262.2 199.9L276.9 201.2L263.6 203.0L275.3 204.1L268.9 205.8L262.4 206.5L276.3 208.1L272.0 209.0L261.1 210.2L273.6 211.1L266.3 212.3L274.9 213.5L259.2 215.2L275.4 216.4L260.2 217.7L276.7 218.6L259.5 220.1L274.5 221.7L288.0 222.8L261.1 223.4L270.3 224.3L281.2 225.8L274.6 227.0L266.0 228.6L263.3 229.9L282.5 231.6L263.4 232.5L267.5 233.7L276.4 235.0L273.3 236.8L267.0 237.9L279.5 239.3L277.1 240.0L270.0 241.4L276.0 242.6L266.4 243.8L279.4 245.2L277.5 246.1L284.3 247.1L273.4 247.9L263.8 248.7L271.1 250.1L266.6 251.9L273.4 253.4L265.1 254.1L278.5 254.9L276.2 255.7L267.8 256.9L273.5 257.5L272.3 258.7L265.1 259.3L276.5 260.4L278.0 262.1L281.1 263.2L263.3 264.8L271.7 266.0L265.7 267.4L278.2 268.7L285.5 270.2L269.6 271.7L273.6 272.6L262.6 273.8L266.5 275.3L272.8 277.1L262.7 278.3L274.4 279.7L267.9 281.0L273.4 281.7L263.2 283.4L275.6 285.2L276.8 286.1L277.4 287.8L266.2 289.0L274.8 290.4L262.3 291.6L269.7 292.5L264.6 293.9L277.4 295.3L271.9 297.2L278.6 298.3L267.9 299.0L274.4 300.3L279.9 301.9L276.5 302.8L274.5 303.9L273.9 305.7L266.1 307.4L280.0 308.4L265.4 309.9L274.7 310.7L263.6 311.4L264.0 312.6L274.2 313.7L268.5 314.8L279.3 316.1L263.4 317.7L279.1 319.0L275.1 319.7L269.9 320.4L274.9 322.0L265.3 323.5L264.5 325.0L262.2 326.5L262.1 328.2L261.6 329.6L275.5 330.4L267.1 331.2L271.2 332.2L276.2 333.1L270.1 333.8L272.6 335.4L268.4 336.9L262.7 338.2L276.6 340.0L268.0 341.8L277.8 343.7L264.7 344.9L274.7 345.7L272.9 347.0L269.3 348.5L261.2 350.2L279.4 351.4L282.3 352.4L275.0 353.3L269.6 355.0L290.0 356.5L256.4 357.6L270.5 358.7L258.9 359.9L269.6 360.9L263.4 361.9L257.4 363.0L264.9 364.0L267.5 365.5L267.7 366.9L258.0 367.6L270.0 369.0L262.0 369.7L264.9 371.3L265.1 372.7L263.7 374.3L261.2 375.7L271.7 377.2L259.6 379.0L267.2 379.9L263.1 381.1L268.4 382.9L271.0 384.7L261.4 386.4L258.5 387.2L272.6 388.1L263.2 389.6L265.5 390.3L271.9 391.1L261.0 392.2L262.7 393.5L271.0 395.0L269.1 396.7L261.1 398.5L271.5 399.2L272.1 400.5L260.1 401.7L266.7 403.2L255.8 403.9L265.2 405.6L263.5 407.4L266.4 408.7L256.2 409.4L264.7 410.5L255.8 411.7L272.7 412.6L270.0 413.7L267.7 415.5L260.4 416.3L260.6 418.0L268.3 418.7L260.6 419.6L275.2 421.0L265.5 422.1L271.0 423.9L264.5 424.6L273.1 425.6L254.2 426.9L271.3 428.4L263.8 429.3L262.0 430.6L274.0 431.8L262.8 432.8L264.8 434.4L272.7 435.0L267.2 436.8L269.7 437.9L259.4 439.7L266.5 440.7L250.7 442.0L268.2 442.9L270.6 444.5L271.9 445.2L251.0 446.0L270.0 446.8L261.8 447.5L273.9 448.5L259.0 450.3L276.4 451.4L260.6 452.9L271.1 454.6L266.7 455.6L271.2 456.8L273.0 458.3L264.9 459.4L273.2 460.4L258.7 461.2L264.7 462.7L270.0 464.4L266.3 465.1L252.0 465.8L259.7 466.6L268.4 467.5L263.7 468.6L266.0 469.2L259.8 470.9L272.7 472.4L269.9 473.3L262.5 474.4L266.3 475.2L262.2 476.0L274.7 477.3L263.7 478.4L266.7 479.6L253.8 480.7L286.6 482.2L254.5 483.5L266.7 484.9L278.0 486.0L253.5 487.3L272.4 488.2L259.4 489.5L270.9 490.9L267.2 491.9L254.4 493.4L268.2 494.8L266.8 496.1L263.3 496.9L265.1 498.5L250.7 499.7L258.1 500.9L269.0 501.9L270.5 503.5L280.5 504.9L266.5 505.9L258.8 507.7L273.0 508.8L262.7 510.3L261.5 511.1L271.3 512.3L259.8 513.4L257.8 514.5L271.9 515.3L259.2 516.1L265.7 517.0L256.6 518.0L268.3 518.8L256.9 520.5L269.3 521.9L261.6 523.7L263.5 524.5L265.4 525.2L252.7 526.1L267.4 527.7L274.8 529.3L273.8 530.5L259.8 531.4L265.2 533.0L263.9 534.0L269.0 534.9L259.9 535.7L266.7 537.0L260.3 538.7L263.1 540.6L260.3 541.4L254.2 542.4L268.8 543.5L259.9 545.3L269.1 546.9L258.1 548.1L268.6 548.8L261.9 550.1L275.9 551.1L292.8 552.8L297.9 554.3L297.6 555.5L302.0 557.2L290.0 558.0L289.6 559.3L283.7 560.9L290.0 561.6L293.2 563.3L290.0 565.0L284.5 566.5L276.1 567.1L274.1 568.1L271.0 569.3L263.6 570.7L270.1 571.7L255.7 573.2L269.5 575.0L274.2 576.3L265.2 577.5L269.7 578.9L275.4 580.7L265.0 581.6L280.2 582.7L273.5 584.0L280.6 585.5L279.4 587.3L269.5 588.4L268.4 590.2L276.0 592.1L274.0 593.5L286.3 594.6L274.1 596.1L274.2 597.7L271.3 599.4L264.6 600.7L262.5 601.9L253.8 602.9L265.9 603.6L269.3 604.4L268.3 605.6L245.4 606.3L260.2 607.8L266.8 609.6L260.0 610.8L243.8 612.0L262.4 613.3L261.9 614.3L257.3 615.4L263.1 616.6L254.8 617.4L266.2 618.6L291.6 619.3L278.3 620.3L274.8 621.5L283.6 622.5L276.6 623.6L280.3 624.6L279.4 626.1L271.5 627.8L272.8 629.4L292.8 631.3L284.8 632.4L270.4 633.5L301.0 635.1L274.4 637.0L279.9 638.1L274.9 638.8L281.1 640.5L274.1 642.1L280.0 643.2L265.2 644.5L279.4 645.7L267.7 647.3L275.4 648.9L264.2 650.8L274.5 651.7L267.0 653.2L281.6 654.0L273.4 654.9L262.4 655.7L273.2 656.7L258.9 658.4L262.7 659.4L258.5 660.6L254.2 661.4L265.1 662.7L259.8 663.7L254.0 665.2" stroke="#16803a" stroke-width="1.2" fill="none" stroke-linejoin="miter" stroke-miterlimit="3" />
<path d="M363.3 374.6L363.3 384.0L401.3 384.8L401.3 401.2L357.2 403.1L401.3 404.6L401.3 420.8L363.3 422.7L401.3 424.2L401.3 440.6L365.6 442.5L401.3 444.0L401.3 459.5L361.0 461.4L401.3 462.9L401.3 478.4L361.5 480.3L401.3 481.8L401.3 498.0L380.0 499.3L401.3 500.5L380.0 501.6L401.3 503.0L389.3 505.0L401.3 506.2L401.3 512.0L396.0 513.8L387.7 517.0L381.0 518.2L366.4 519.2L401.3 521.0L401.3 527.0L374.0 528.3L401.3 530.0L377.0 533.0L389.0 535.2L401.3 536.0L401.3 538.5L360.3 539.7L401.3 541.0L401.3 548.0L396.0 549.7L401.3 551.0L401.3 553.5L375.0 555.0L351.0 556.5L326.0 558.8L328.5 560.5L326.5 562.5L329.0 564.6L327.0 567.0L329.8 569.5L329.0 570.7L340.5 573.0L351.1 575.6L332.8 577.5L357.2 579.5L342.0 582.9L343.0 585.0L332.8 587.5L331.0 591.0L331.3 595.0L335.9 598.9L352.7 600.4L358.0 603.5L343.5 608.0L363.3 611.1L338.2 612.6L345.0 615.0L356.5 618.7L325.2 621.0L355.0 623.3L346.6 624.8L343.0 627.0L340.5 630.2L341.5 634.0L341.2 637.8L332.0 640.8L356.5 643.1L339.7 647.7L343.5 651.5L337.4 654.6L340.5 657.6L336.0 660.0L335.9 663.4L340.5 663.4" stroke="#111" stroke-width="1.3" fill="none" stroke-linejoin="miter" stroke-miterlimit="3" />
<line x1="442" y1="376.5" x2="493" y2="376.5" stroke="#2F3B9F" stroke-width="1.3" />
<line x1="473" y1="379" x2="479.6" y2="379" stroke="#2F3B9F" stroke-width="1.3" />
<line x1="462.8" y1="385.5" x2="479.6" y2="385.5" stroke="#2F3B9F" stroke-width="1.3" />
<line x1="470" y1="387" x2="479.6" y2="387" stroke="#2F3B9F" stroke-width="1.3" />
<line x1="471.5" y1="391.4" x2="480.3" y2="391.4" stroke="#2F3B9F" stroke-width="1.3" />
<line x1="454.7" y1="394" x2="477.4" y2="394" stroke="#2F3B9F" stroke-width="1.3" />
<line x1="467" y1="399" x2="496.4" y2="399" stroke="#2F3B9F" stroke-width="1.3" />
<line x1="471.5" y1="406.7" x2="477.4" y2="406.7" stroke="#2F3B9F" stroke-width="1.3" />
<line x1="454.7" y1="408" x2="491.2" y2="408" stroke="#2F3B9F" stroke-width="1.3" />
<line x1="465" y1="414.7" x2="486" y2="414.7" stroke="#2F3B9F" stroke-width="1.3" />
<line x1="476" y1="419" x2="487.6" y2="419" stroke="#2F3B9F" stroke-width="1.3" />
<line x1="464.2" y1="424.2" x2="473.7" y2="424.2" stroke="#2F3B9F" stroke-width="1.3" />
<line x1="480.3" y1="426.4" x2="486" y2="426.4" stroke="#2F3B9F" stroke-width="1.3" />
<line x1="464.2" y1="429.3" x2="476" y2="429.3" stroke="#2F3B9F" stroke-width="1.3" />
<line x1="473" y1="433.7" x2="479.6" y2="433.7" stroke="#2F3B9F" stroke-width="1.3" />
<path d="M476.7 375.5L477.0 376.5L477.6 377.5L479.3 377.9L471.8 378.5L477.8 379.5L477.0 379.8" stroke="#2F3B9F" stroke-width="1.1" fill="none" stroke-linejoin="miter" stroke-miterlimit="3" />
<path d="M477.0 384.0L472.2 384.6L464.3 385.4L470.4 386.0L467.0 386.5L471.0 386.9L471.9 387.5L472.3 388.3L470.6 389.3" stroke="#2F3B9F" stroke-width="1.1" fill="none" stroke-linejoin="miter" stroke-miterlimit="3" />
<path d="M476.2 390.5L470.9 391.2L474.7 391.7L474.6 392.0L471.2 392.7L474.0 393.2L475.6 394.1L476.6 394.6L475.7 395.0" stroke="#2F3B9F" stroke-width="1.1" fill="none" stroke-linejoin="miter" stroke-miterlimit="3" />
<path d="M476.5 398.0L484.9 398.4L476.4 399.0L470.7 399.7L472.7 400.6L463.6 401.2" stroke="#2F3B9F" stroke-width="1.1" fill="none" stroke-linejoin="miter" stroke-miterlimit="3" />
<path d="M488.2 413.5L473.7 414.3L479.5 415.2L475.5 416.0L479.8 416.7L479.8 417.6L464.2 418.3L476.8 418.9L477.6 419.8" stroke="#2F3B9F" stroke-width="1.1" fill="none" stroke-linejoin="miter" stroke-miterlimit="3" />
<path d="M483.7 423.5L479.3 424.1L478.5 425.0L478.6 425.5L471.1 426.3L477.0 426.9" stroke="#2F3B9F" stroke-width="1.1" fill="none" stroke-linejoin="miter" stroke-miterlimit="3" />
<path d="M474.6 431.5L479.3 432.4L481.0 433.2L482.7 434.1" stroke="#2F3B9F" stroke-width="1.1" fill="none" stroke-linejoin="miter" stroke-miterlimit="3" />
<line x1="403.6" y1="381.9" x2="496.4" y2="381.9" stroke="#2F3B9F" stroke-width="1.8" />
<line x1="403.6" y1="397.5" x2="496.4" y2="397.5" stroke="#2F3B9F" stroke-width="1.8" />
<line x1="403.6" y1="416.2" x2="496.4" y2="416.2" stroke="#2F3B9F" stroke-width="1.8" />
<line x1="403.6" y1="427.9" x2="496.4" y2="427.9" stroke="#2F3B9F" stroke-width="1.8" />
<line x1="403.6" y1="435.4" x2="496.4" y2="435.4" stroke="#2F3B9F" stroke-width="1.8" />
<line x1="403.6" y1="436.9" x2="496.4" y2="436.9" stroke="#2F3B9F" stroke-width="1.8" />
<path d="M454.7 373.8L454.7 437.5" stroke="#E23A22" stroke-width="1.2" fill="none" stroke-linejoin="miter" stroke-miterlimit="3" />
<path d="M454.7 437.5L459.9 438.0L460.9 439.5L464.2 441.2L458.8 442.0L459.7 443.9L461.5 445.1L461.3 447.0L461.9 448.4L468.9 449.3L461.4 450.2L464.0 451.7L462.3 452.8L464.7 454.7L467.7 455.7L465.7 457.3L462.7 458.7L454.7 460.5L458.0 461.8L461.0 463.2L462.3 464.0L458.7 465.7L458.7 466.7L458.7 467.4L460.5 469.0L453.3 470.9L496.3 470.9L496.3 558.4L450.4 558.4" stroke="#E23A22" stroke-width="1.2" fill="none" stroke-linejoin="miter" stroke-miterlimit="3" />
<path d="M490.5 438.0L481.4 439.3L479.7 440.1L484.2 441.1L485.6 441.7L496.2 442.7L484.7 443.4L496.2 444.4L496.2 445.7L496.2 446.7L496.2 447.5L484.5 448.5L491.5 449.8L492.2 450.3L483.6 451.5L483.8 452.7L492.0 453.9L486.4 454.9L489.0 455.5L492.8 456.7L493.2 457.9L480.6 459.1L491.5 460.0L487.3 460.6L481.5 461.6L477.4 462.4L493.0 463.5L490.2 464.2L489.4 465.3L486.8 466.6L475.8 467.1L484.5 467.9L488.5 468.6L482.0 469.7L484.8 470.6L481.9 471.4L480.5 472.1L486.6 473.1L482.7 474.2L471.0 475.5L491.9 476.4L477.5 476.9L485.1 477.5L481.1 478.4L481.5 479.0L482.0 480.2L489.5 481.0L484.7 482.1L489.5 482.6L490.0 483.2L489.5 483.9L491.2 484.6L495.0 485.6L495.3 486.3L496.2 486.9" stroke="#2F3B9F" stroke-width="1.2" fill="none" stroke-linejoin="miter" stroke-miterlimit="3" />
<path d="M492.9 489.0L487.6 489.7L493.5 490.2L495.5 491.1L496.2 492.0L491.1 492.5L496.2 493.1L495.3 493.6L488.9 494.7L489.1 495.7L492.7 496.6L496.2 497.3L491.0 498.0L496.2 498.7L496.2 499.7L496.2 500.5L495.4 501.5L496.2 502.0L496.2 503.3L496.2 504.1L496.2 504.8L496.2 506.0L496.2 507.0L492.7 508.0L496.2 508.8L496.2 510.0L496.2 510.9L495.8 511.8L491.8 512.5L496.2 513.7L487.9 514.3L496.2 515.2L496.2 516.4L496.2 517.7L496.1 518.8L496.2 519.8L490.7 520.4L496.2 521.2L496.2 522.1L496.2 523.0L496.2 524.1L496.2 524.6L496.2 525.1L496.2 526.3L496.2 527.1L495.9 528.2L494.5 529.0L495.6 529.8L491.2 531.1L495.1 531.6L493.5 532.9L494.9 533.5L496.2 534.8L496.2 535.7L496.2 536.8L496.2 537.7L496.2 539.0L488.8 539.6L491.9 540.1L492.5 541.1L496.2 542.4L486.9 543.2L495.2 544.4L495.7 545.7L492.2 547.0L493.0 547.6L496.2 548.9L483.0 549.7L496.2 550.2L490.7 551.2L487.1 551.9L474.3 552.4L481.4 553.1L496.2 553.6L490.3 554.5L496.2 555.1L492.0 556.3L485.6 556.8L496.2 557.9L496.2 559.2L488.5 560.0" stroke="#2F3B9F" stroke-width="1.2" fill="none" stroke-linejoin="miter" stroke-miterlimit="3" />
<path d="M413.2 439.0L404.0 439.9L411.5 440.8L404.0 442.0L404.0 442.6L404.4 443.1L404.0 444.1L413.5 444.6L408.3 445.3L404.0 446.5L404.0 447.1L404.0 447.8" stroke="#2F3B9F" stroke-width="1.2" fill="none" stroke-linejoin="miter" stroke-miterlimit="3" />
<path d="M404.8 470.0L404.3 470.6L409.2 471.1L406.9 472.1L412.9 472.9L411.0 473.4L404.9 474.0L408.0 474.9L417.3 476.0L406.0 477.1L413.9 478.3L417.3 479.5L417.3 480.6L417.0 481.7L407.1 482.6L405.8 483.9L419.6 484.5L404.0 485.6L410.0 486.9L415.0 488.2L405.6 488.8L418.5 490.1L425.3 491.5L421.9 492.2L435.9 493.0L423.8 493.8L418.9 495.0L410.4 495.7L413.0 496.6L404.0 497.5L404.0 498.9L422.6 499.7" stroke="#2F3B9F" stroke-width="1.2" fill="none" stroke-linejoin="miter" stroke-miterlimit="3" />
<path d="M414.6 500.0L410.3 500.8L405.8 501.3L405.3 502.5L413.5 503.6L415.1 504.9L413.7 506.2L413.0 506.9L405.9 507.9L409.0 509.0L425.5 510.2L412.7 511.1L404.0 512.1L406.3 513.0L406.3 514.0L413.5 514.4L410.0 514.9L416.3 515.8L404.0 516.8L411.5 517.5L418.1 518.0L420.8 519.1L410.7 520.2L407.6 520.9L417.7 521.8L414.7 523.2L405.4 524.1L428.7 525.1L423.5 526.0L423.1 526.7L411.8 527.7L418.1 528.9L411.1 530.3L408.2 531.1L415.0 532.2L411.3 532.8L404.2 533.8L404.0 534.3L410.6 535.5L417.5 536.5L415.6 537.6L404.0 538.5L408.4 539.0L408.5 539.8L414.4 540.5L418.0 541.3L405.0 541.9L408.7 543.1L412.7 544.3L406.4 545.6L406.6 546.9L410.4 547.5L411.1 548.2L405.3 549.3L404.0 549.8L408.5 550.4L404.0 551.7L404.0 552.3L404.0 553.5L404.9 554.6L407.6 555.2L404.0 555.8L404.0 556.7L409.2 557.6L404.0 558.3L404.2 558.9L405.5 559.4" stroke="#2F3B9F" stroke-width="1.2" fill="none" stroke-linejoin="miter" stroke-miterlimit="3" />
<path d="M432.0 560.0L432.6 561.3L430.9 562.2L427.5 563.3L438.0 564.3L432.9 565.4L427.5 566.4L438.0 567.6L437.1 568.2L433.2 569.4L434.1 570.8L418.0 572.2L464.0 572.2L456.6 574.0L455.1 575.1L456.3 575.8L452.1 576.7L452.9 577.3L446.7 578.2L448.8 579.7L451.4 581.0L450.6 582.1L442.9 582.9L448.5 583.9L447.2 585.0L452.1 585.8L447.6 586.9L456.3 588.3L445.8 589.8L436.7 590.6L439.4 592.1L448.5 593.4L446.0 594.4L441.2 595.1L439.7 596.4L434.8 597.1L451.4 597.9L456.0 599.3L458.7 600.8L456.4 602.3L460.4 602.9L455.8 603.7L451.4 605.0L450.3 606.4L453.7 607.6L460.6 609.2L463.6 610.4L457.4 611.5L459.4 612.2L460.9 613.7L461.6 615.1L461.4 616.2L463.1 616.9L466.1 617.7L464.6 618.3L459.4 619.0L457.9 620.0L450.0 620.6L407.6 622.2L407.6 622.8L447.8 623.9L445.3 625.5L446.1 626.8L444.7 628.2L446.8 629.3L447.4 630.7L458.5 631.8L455.8 632.3L461.6 633.1L455.0 634.7L450.8 635.6L440.2 637.2L443.9 638.8L445.5 639.4L444.4 640.8L455.4 641.9L441.5 642.8L450.4 643.9L454.9 644.5L452.5 645.4L448.5 646.6L446.9 647.3L455.8 647.9L456.6 648.9L456.1 649.8L455.4 651.0L455.0 652.3L445.4 653.9L459.3 654.4L451.5 655.1L456.5 655.9L455.6 656.9L462.5 658.4L462.5 659.6L464.5 660.8L470.0 662.0L469.7 663.3L462.8 664.0L461.9 664.8" stroke="#2F3B9F" stroke-width="1.2" fill="none" stroke-linejoin="miter" stroke-miterlimit="3" />
<path d="M450.4 558.4L452.0 559.0L453.0 560.0L451.7 561.0L451.4 562.4L452.3 563.4L454.5 564.3L449.6 566.1L450.2 566.9L456.2 567.7L452.7 568.7L452.7 570.1L462.2 572.0L461.0 573.0L465.9 574.3L464.4 575.1L464.1 576.8L464.5 577.7L463.6 579.2L464.5 580.4L462.9 581.6L455.6 583.2L462.0 584.7L462.8 585.6L462.0 586.5L459.1 587.1L458.3 589.1L458.8 590.9L460.8 592.8L461.4 593.6L459.3 594.9L458.6 596.7L455.2 597.9L455.4 599.3L459.0 600.5L456.1 601.5L466.9 603.1L457.8 604.2L458.2 606.0L456.2 607.0L460.0 608.0L463.6 609.9L458.6 611.1L458.3 612.3L454.8 613.5L453.9 614.3L457.2 616.1L466.2 617.9L460.7 619.4L461.1 621.3L459.6 622.9L454.8 624.7L458.7 626.0L460.6 627.4L454.9 629.3L454.6 630.5L457.9 631.6L457.6 633.4L457.6 634.1L460.3 635.4L459.8 636.8L457.1 637.7L456.5 638.8L463.5 640.3L463.7 641.4L460.9 642.1L458.3 643.5L459.9 645.3L461.9 647.0L460.2 648.7L460.3 650.0L460.0 651.5L456.2 653.2L463.4 654.0L455.8 654.6L461.3 656.4L459.5 657.8L454.0 658.8L455.9 660.1L456.8 661.8L457.2 662.9L453.7 663.6" stroke="#E23A22" stroke-width="1.2" fill="none" stroke-linejoin="miter" stroke-miterlimit="3" />
<path d="M568.7 72.2L603.3 72.2L586.0 142.2Z" fill="#DC2B1D"/>
<path d="M568.7 142.0L603.3 142.0L586.0 363.3Z" fill="#DC2B1D"/>
<path d="M568.7 363.3L603.3 363.3L586.0 472.2Z" fill="#DC2B1D"/>
<path d="M586.0 472.2L603.3 551.0L568.7 551.0Z" fill="#4CA0D3"/>
<path d="M568.7 551.0L603.3 551.0L586.0 618.3Z" fill="#DC2B1D"/>
<path d="M586.0 618.3L603.3 667.6L568.7 667.6Z" fill="#4CA0D3"/>
<line x1="534.5" y1="72.2" x2="534.5" y2="668.3" stroke="#333" stroke-width="1.0" />
<line x1="568.6" y1="72.2" x2="568.6" y2="668.3" stroke="#333" stroke-width="1.0" />
<line x1="534.5" y1="472.2" x2="603.5" y2="472.2" stroke="#5AAAD8" stroke-width="1.4" />
<line x1="534.5" y1="618.3" x2="603.5" y2="618.3" stroke="#5AAAD8" stroke-width="1.4" />
<text x="502.8" y="111.6" font-size="14.2" text-anchor="start" fill="#111" >SQ4</text>
<text x="502.8" y="256.6" font-size="14.2" text-anchor="start" fill="#111" >SQ3</text>
<text x="502.8" y="461.6" font-size="14.2" text-anchor="start" fill="#111" >SQ2</text>
<text x="502.8" y="612.8" font-size="14.2" text-anchor="start" fill="#111" >SQ1</text>
<text x="551.0" y="110.8" font-size="10.2" text-anchor="middle" fill="#111" >LST4</text>
<text x="551.0" y="255.8" font-size="10.2" text-anchor="middle" fill="#111" >HST3</text>
<text x="551.0" y="425.3" font-size="10.2" text-anchor="middle" fill="#111" >HST2</text>
<text x="551.0" y="515.0" font-size="10.2" text-anchor="middle" fill="#111" >TST2</text>
<text x="551.0" y="587.5" font-size="10.2" text-anchor="middle" fill="#111" >HST1</text>
<text x="551.0" y="646.3" font-size="10.2" text-anchor="middle" fill="#111" >TST1</text>
<path d="M619.9 72.0C620.0 73.0 619.9 76.1 620.6 78.3C621.3 80.5 623.3 82.0 624.1 85.2C624.9 88.4 625.3 93.3 625.5 97.7C625.7 102.1 625.4 106.5 625.2 111.6C625.0 116.7 624.7 123.6 624.1 128.2C623.5 132.8 622.3 136.1 621.7 139.3C621.1 142.5 620.9 142.5 620.6 147.6C620.4 152.7 620.3 152.9 620.2 170.0C620.1 187.1 620.0 211.7 620.0 250.0C620.0 288.3 620.0 371.3 620.0 400.0C620.0 428.7 620.0 414.6 620.2 422.0C620.4 429.4 620.5 438.1 621.3 444.4C622.1 450.7 623.5 455.9 625.1 460.0C626.7 464.1 628.9 467.0 630.7 468.9C632.6 470.8 634.4 470.7 636.2 471.6C638.1 472.5 639.9 472.3 641.8 474.4C643.6 476.5 645.8 480.1 647.3 484.4C648.8 488.7 650.0 494.8 650.7 500.0C651.4 505.2 651.4 510.4 651.3 515.6C651.2 520.8 650.8 526.9 650.2 531.0C649.7 535.1 649.2 537.2 648.0 540.0C646.8 542.8 645.0 545.8 642.8 547.8C640.6 549.8 637.9 550.7 635.0 551.7C632.1 552.7 627.8 552.3 625.4 553.6C623.0 554.9 621.5 555.8 620.5 559.4C619.5 563.0 620.1 569.8 619.5 575.0C618.9 580.2 617.5 585.7 616.6 590.5C615.7 595.3 613.9 599.8 614.1 604.0C614.3 608.2 615.4 612.9 617.6 615.7C619.8 618.5 624.1 618.7 627.3 620.6C630.5 622.5 634.6 624.3 637.0 627.4C639.4 630.5 641.0 634.8 641.9 639.0C642.8 643.2 642.9 648.7 642.4 652.6C641.9 656.5 641.2 660.0 639.0 662.3C636.8 664.6 632.3 665.4 629.2 666.2C626.1 667.0 622.0 667.0 620.5 667.2" stroke="#1F3D96" stroke-width="4.2" fill="none" stroke-linecap="butt"/>
<rect x="3.2" y="4.3" width="679.1999999999999" height="713.1" fill="none" stroke="#333" stroke-width="1.4"/>
<line x1="3.2" y1="26.3" x2="682.4" y2="26.3" stroke="#333" stroke-width="1.25" />
<line x1="3.2" y1="72.2" x2="682.4" y2="72.2" stroke="#333" stroke-width="1.25" />
<line x1="3.2" y1="668.3" x2="682.4" y2="668.3" stroke="#333" stroke-width="1.25" />
<line x1="35.5" y1="26.3" x2="35.5" y2="717.4" stroke="#333" stroke-width="1.25" />
<line x1="66.6" y1="26.3" x2="66.6" y2="717.4" stroke="#333" stroke-width="1.25" />
<line x1="167.8" y1="26.3" x2="167.8" y2="717.4" stroke="#333" stroke-width="1.25" />
<line x1="235.6" y1="26.3" x2="235.6" y2="717.4" stroke="#333" stroke-width="1.25" />
<line x1="98.2" y1="26.3" x2="98.2" y2="668.3" stroke="#333" stroke-width="1.25" />
<line x1="136.7" y1="26.3" x2="136.7" y2="668.3" stroke="#333" stroke-width="1.25" />
<line x1="313.5" y1="26.3" x2="313.5" y2="668.3" stroke="#333" stroke-width="1.25" />
<line x1="402.6" y1="26.3" x2="402.6" y2="668.3" stroke="#333" stroke-width="1.25" />
<line x1="499.5" y1="26.3" x2="499.5" y2="668.3" stroke="#333" stroke-width="1.25" />
<line x1="603.5" y1="26.3" x2="603.5" y2="668.3" stroke="#333" stroke-width="1.25" />
<line x1="3.2" y1="142.0" x2="98.2" y2="142.0" stroke="#333" stroke-width="1.25" />
<line x1="35.5" y1="551.9" x2="66.6" y2="551.9" stroke="#333" stroke-width="1.25" />
<line x1="136.7" y1="86.3" x2="141.7" y2="86.3" stroke="#333" stroke-width="1.2" />
<text x="145.5" y="89.3" font-size="8.6" text-anchor="start" fill="#1a1a1a" >1</text>
<line x1="136.7" y1="114.6" x2="141.7" y2="114.6" stroke="#333" stroke-width="1.2" />
<text x="145.5" y="117.6" font-size="8.6" text-anchor="start" fill="#1a1a1a" >2</text>
<line x1="136.7" y1="143.2" x2="141.7" y2="143.2" stroke="#333" stroke-width="1.2" />
<text x="145.5" y="146.2" font-size="8.6" text-anchor="start" fill="#1a1a1a" >3</text>
<line x1="136.7" y1="165.2" x2="141.7" y2="165.2" stroke="#333" stroke-width="1.2" />
<text x="145.5" y="168.2" font-size="8.6" text-anchor="start" fill="#1a1a1a" >4</text>
<line x1="136.7" y1="183.8" x2="141.7" y2="183.8" stroke="#333" stroke-width="1.2" />
<text x="145.5" y="186.8" font-size="8.6" text-anchor="start" fill="#1a1a1a" >5</text>
<line x1="136.7" y1="236.9" x2="141.7" y2="236.9" stroke="#333" stroke-width="1.2" />
<text x="145.5" y="239.9" font-size="8.6" text-anchor="start" fill="#1a1a1a" >6</text>
<line x1="136.7" y1="257.7" x2="141.7" y2="257.7" stroke="#333" stroke-width="1.2" />
<text x="145.5" y="260.7" font-size="8.6" text-anchor="start" fill="#1a1a1a" >7</text>
<line x1="136.7" y1="322.6" x2="141.7" y2="322.6" stroke="#333" stroke-width="1.2" />
<text x="145.5" y="325.6" font-size="8.6" text-anchor="start" fill="#1a1a1a" >8</text>
<line x1="136.7" y1="373.7" x2="141.7" y2="373.7" stroke="#333" stroke-width="1.2" />
<text x="145.5" y="376.7" font-size="8.6" text-anchor="start" fill="#1a1a1a" >9</text>
<line x1="136.7" y1="388.3" x2="141.7" y2="388.3" stroke="#333" stroke-width="1.2" />
<text x="145.5" y="391.3" font-size="8.6" text-anchor="start" fill="#1a1a1a" >10</text>
<line x1="136.7" y1="412.1" x2="141.7" y2="412.1" stroke="#333" stroke-width="1.2" />
<text x="145.5" y="415.1" font-size="8.6" text-anchor="start" fill="#1a1a1a" >11</text>
<line x1="136.7" y1="431.2" x2="141.7" y2="431.2" stroke="#333" stroke-width="1.2" />
<text x="145.5" y="434.2" font-size="8.6" text-anchor="start" fill="#1a1a1a" >12</text>
<line x1="136.7" y1="446.0" x2="141.7" y2="446.0" stroke="#333" stroke-width="1.2" />
<text x="145.5" y="449.0" font-size="8.6" text-anchor="start" fill="#1a1a1a" >13</text>
<line x1="136.7" y1="459.9" x2="141.7" y2="459.9" stroke="#333" stroke-width="1.2" />
<text x="145.5" y="462.9" font-size="8.6" text-anchor="start" fill="#1a1a1a" >14</text>
<line x1="136.7" y1="474.6" x2="141.7" y2="474.6" stroke="#333" stroke-width="1.2" />
<text x="145.5" y="477.6" font-size="8.6" text-anchor="start" fill="#1a1a1a" >15</text>
<line x1="136.7" y1="489.1" x2="141.7" y2="489.1" stroke="#333" stroke-width="1.2" />
<text x="145.5" y="492.1" font-size="8.6" text-anchor="start" fill="#1a1a1a" >16</text>
<line x1="136.7" y1="504.1" x2="141.7" y2="504.1" stroke="#333" stroke-width="1.2" />
<text x="145.5" y="507.1" font-size="8.6" text-anchor="start" fill="#1a1a1a" >17</text>
<line x1="136.7" y1="509.9" x2="141.7" y2="509.9" stroke="#333" stroke-width="1.2" />
<text x="145.5" y="512.9" font-size="8.6" text-anchor="start" fill="#1a1a1a" >18</text>
<line x1="136.7" y1="524.9" x2="141.7" y2="524.9" stroke="#333" stroke-width="1.2" />
<text x="145.5" y="527.9" font-size="8.6" text-anchor="start" fill="#1a1a1a" >19</text>
<line x1="136.7" y1="547.5" x2="141.7" y2="547.5" stroke="#333" stroke-width="1.2" />
<text x="145.5" y="550.5" font-size="8.6" text-anchor="start" fill="#1a1a1a" >20</text>
<line x1="136.7" y1="554.0" x2="141.7" y2="554.0" stroke="#333" stroke-width="1.2" />
<text x="145.5" y="557.0" font-size="8.6" text-anchor="start" fill="#1a1a1a" >21</text>
<line x1="136.7" y1="560.9" x2="141.7" y2="560.9" stroke="#333" stroke-width="1.2" />
<text x="145.5" y="563.9" font-size="8.6" text-anchor="start" fill="#1a1a1a" >22</text>
<line x1="136.7" y1="568.7" x2="141.7" y2="568.7" stroke="#333" stroke-width="1.2" />
<text x="145.5" y="571.7" font-size="8.6" text-anchor="start" fill="#1a1a1a" >23</text>
<line x1="136.7" y1="576.0" x2="141.7" y2="576.0" stroke="#333" stroke-width="1.2" />
<text x="145.5" y="579.0" font-size="8.6" text-anchor="start" fill="#1a1a1a" >24</text>
<line x1="136.7" y1="590.1" x2="141.7" y2="590.1" stroke="#333" stroke-width="1.2" />
<text x="145.5" y="593.1" font-size="8.6" text-anchor="start" fill="#1a1a1a" >25</text>
<line x1="136.7" y1="596.7" x2="141.7" y2="596.7" stroke="#333" stroke-width="1.2" />
<text x="145.5" y="599.7" font-size="8.6" text-anchor="start" fill="#1a1a1a" >26</text>
<line x1="136.7" y1="607.0" x2="141.7" y2="607.0" stroke="#333" stroke-width="1.2" />
<text x="145.5" y="610.0" font-size="8.6" text-anchor="start" fill="#1a1a1a" >27</text>
<line x1="136.7" y1="612.1" x2="141.7" y2="612.1" stroke="#333" stroke-width="1.2" />
<line x1="136.7" y1="619.1" x2="141.7" y2="619.1" stroke="#333" stroke-width="1.2" />
<text x="145.5" y="622.1" font-size="8.6" text-anchor="start" fill="#1a1a1a" >29</text>
<line x1="136.7" y1="632.5" x2="141.7" y2="632.5" stroke="#333" stroke-width="1.2" />
<text x="145.5" y="635.5" font-size="8.6" text-anchor="start" fill="#1a1a1a" >30</text>
<line x1="136.7" y1="638.4" x2="141.7" y2="638.4" stroke="#333" stroke-width="1.2" />
<line x1="136.7" y1="647.8" x2="141.7" y2="647.8" stroke="#333" stroke-width="1.2" />
<text x="145.5" y="650.8" font-size="8.6" text-anchor="start" fill="#1a1a1a" >32</text>
<line x1="136.7" y1="654.6" x2="141.7" y2="654.6" stroke="#333" stroke-width="1.2" />
<line x1="136.7" y1="661.2" x2="141.7" y2="661.2" stroke="#333" stroke-width="1.2" />
<text x="145.5" y="664.2" font-size="8.6" text-anchor="start" fill="#1a1a1a" >34</text>
<line x1="98.2" y1="215.4" x2="103.2" y2="215.4" stroke="#333" stroke-width="1.2" />
<text x="103.4" y="219.70000000000002" font-size="12" text-anchor="start" fill="#1a1a1a" >3100</text>
<line x1="98.2" y1="359.8" x2="103.2" y2="359.8" stroke="#333" stroke-width="1.2" />
<text x="103.4" y="364.1" font-size="12" text-anchor="start" fill="#1a1a1a" >3200</text>
<line x1="98.2" y1="504.0" x2="103.2" y2="504.0" stroke="#333" stroke-width="1.2" />
<text x="103.4" y="508.3" font-size="12" text-anchor="start" fill="#1a1a1a" >3300</text>
<line x1="98.2" y1="648.2" x2="103.2" y2="648.2" stroke="#333" stroke-width="1.2" />
<text x="103.4" y="652.5" font-size="12" text-anchor="start" fill="#1a1a1a" >3400</text>
<text x="82.3" y="229.6" font-size="12" text-anchor="middle" fill="#1a1a1a" >??</text>
<text x="82.3" y="345.3" font-size="12" text-anchor="middle" fill="#1a1a1a" >??</text>
<text x="82.3" y="535.6" font-size="12" text-anchor="middle" fill="#1a1a1a" >??</text>
<text x="358.8" y="19.8" font-size="13.8" text-anchor="middle" fill="#1a1a1a" >well ARM-7</text>
<text x="20.5" y="45.4" font-size="12" text-anchor="middle" fill="#1a1a1a" >Age</text>
<text x="51.6" y="45.5" font-size="12" text-anchor="middle" fill="#1a1a1a" >Fm.</text>
<text transform="translate(81.2,49.6) rotate(-90)" font-size="12" text-anchor="middle" fill="#1a1a1a">Pl.</text>
<text transform="translate(96.3,51.0) rotate(-90)" font-size="12.3" text-anchor="middle" fill="#1a1a1a">zones</text>
<text x="117.5" y="45.8" font-size="12" text-anchor="middle" fill="#1a1a1a" >Depth</text>
<text x="117.5" y="60.0" font-size="12" text-anchor="middle" fill="#1a1a1a" >(m)</text>
<text x="151.9" y="45.6" font-size="12" text-anchor="middle" fill="#1a1a1a" >S.N.</text>
<text x="201.8" y="46.0" font-size="12" text-anchor="middle" fill="#1a1a1a" >Lithology</text>
<text x="274.5" y="45.5" font-size="12" text-anchor="middle" fill="#1a1a1a" >GR (gAPI)</text>
<text x="358.0" y="45.7" font-size="12" text-anchor="middle" fill="#1a1a1a" >Resistivity</text>
<text x="357.9" y="59.8" font-size="12" text-anchor="middle" fill="#1a1a1a" >(Ohmm)</text>
<text x="451.1" y="38.8" font-size="12" text-anchor="middle" fill="#1a1a1a" >RHOB (g/cc)</text>
<text x="451.0" y="59.6" font-size="12" text-anchor="middle" fill="#1a1a1a" >NPHI (decp)</text>
<text x="551.5" y="46.6" font-size="12" text-anchor="middle" fill="#1a1a1a" >Depositional</text>
<text x="551.5" y="60.5" font-size="12" text-anchor="middle" fill="#1a1a1a" >sequences</text>
<text x="642.7" y="38.9" font-size="12" text-anchor="middle" fill="#1a1a1a" >Relative</text>
<text x="643" y="52.7" font-size="12" text-anchor="middle" fill="#1a1a1a" xml:space="preserve">sea  level</text>
<text x="606.5" y="61.9" font-size="8.2" text-anchor="start" fill="#1a1a1a" >Low</text>
<text x="679.5" y="61.9" font-size="8.2" text-anchor="end" fill="#1a1a1a" >High</text>
<path d="M609.7 64.3V68.9H674.8V64.3" stroke="#555" stroke-width="1.1" fill="none"/>
<line x1="238.2" y1="67.6" x2="309.0" y2="67.6" stroke="#1F8A3B" stroke-width="1.6" />
<text x="238.2" y="66.0" font-size="6.8" text-anchor="start" fill="#1a1a1a" >0</text>
<text x="310.0" y="66.0" font-size="6.8" text-anchor="end" fill="#1a1a1a" >150</text>
<line x1="317.0" y1="67.6" x2="399.4" y2="67.6" stroke="#111" stroke-width="1.6" />
<text x="317.0" y="66.0" font-size="6.8" text-anchor="start" fill="#1a1a1a" >0.2</text>
<text x="399.4" y="66.0" font-size="6.8" text-anchor="end" fill="#1a1a1a" >2000</text>
<line x1="404.8" y1="48.0" x2="492.0" y2="48.0" stroke="#DD3322" stroke-width="1.8" />
<text x="404.8" y="46.6" font-size="6.8" text-anchor="start" fill="#1a1a1a" >1.95</text>
<text x="492.0" y="46.6" font-size="6.8" text-anchor="end" fill="#1a1a1a" >2.95</text>
<line x1="406.3" y1="68.3" x2="493.0" y2="68.3" stroke="#3A4AB0" stroke-width="1.5" />
<text x="405.3" y="66.9" font-size="6.8" text-anchor="start" fill="#1a1a1a" >0.45</text>
<text x="494.0" y="66.9" font-size="6.8" text-anchor="end" fill="#1a1a1a" >-0.15</text>
<text transform="translate(17.0,107.6) rotate(-90)" font-size="13.9" text-anchor="middle" fill="#1a1a1a" >Middle</text>
<text transform="translate(34.0,107.2) rotate(-90)" font-size="13.9" text-anchor="middle" fill="#1a1a1a" >Miocene</text>
<text transform="translate(49.0,107.2) rotate(-90)" font-size="13.9" text-anchor="middle" fill="#1a1a1a" >Kareem</text>
<text transform="translate(65.8,108.4) rotate(-90)" font-size="13.9" text-anchor="middle" fill="#1a1a1a" >Fm.</text>
<text transform="translate(81.2,106.5) rotate(-90)" font-size="11.5" text-anchor="middle" fill="#1a1a1a" font-style="italic">P. glomerosa</text>
<text transform="translate(95.6,107.9) rotate(-90)" font-size="11.5" text-anchor="middle" fill="#1a1a1a" >Zone</text>
<text transform="translate(23.5,405.5) rotate(-90)" font-size="14" text-anchor="middle" fill="#1a1a1a" >Lower Miocene (Burdigalian)</text>
<text transform="translate(57.3,346.5) rotate(-90)" font-size="14" text-anchor="middle" fill="#1a1a1a" >Lower Rudeis Fm.</text>
<text transform="translate(56.7,610.6) rotate(-90)" font-size="14" text-anchor="middle" fill="#1a1a1a" >Nukhul Fm.</text>
<text transform="translate(22.0,693.3) rotate(-90)" font-size="10.5" text-anchor="middle" fill="#1a1a1a" >Oligocene</text>
<text transform="translate(49.6,693.3) rotate(-90)" font-size="8.7" text-anchor="middle" fill="#1a1a1a" >Abu Zenima</text>
<text transform="translate(59.8,693.1) rotate(-90)" font-size="8.6" text-anchor="middle" fill="#1a1a1a" >red beds</text>
<text x="118.1" y="696.0" font-size="12" text-anchor="middle" fill="#1a1a1a" >Not studied</text>
<text x="274.2" y="111.8" font-size="12" text-anchor="middle" fill="#1a1a1a" >Not recorded</text>
<line x1="499.5" y1="142.0" x2="572" y2="142.0" stroke="#D8301E" stroke-width="1.6" />
<line x1="499.5" y1="363.4" x2="572" y2="363.4" stroke="#D8301E" stroke-width="1.6" />
<line x1="499.5" y1="551.0" x2="565" y2="551.0" stroke="#D8301E" stroke-width="1.6" />
<line x1="499.5" y1="667.6" x2="565" y2="667.6" stroke="#D8301E" stroke-width="1.6" />
<rect x="571.9" y="136.2" width="27.899999999999977" height="11.5" fill="#ffffff" />
<text x="585.8499999999999" y="145.8" font-size="10.4" text-anchor="middle" fill="#111" >SB4</text>
<rect x="572.0" y="357.6" width="27.799999999999955" height="11.399999999999977" fill="#ffffff" />
<text x="585.9" y="366.9" font-size="10.4" text-anchor="middle" fill="#111" >SB3</text>
<rect x="571.3" y="465.3" width="29.90000000000009" height="11.800000000000011" fill="#ffffff" />
<text x="586.25" y="474.8" font-size="10.4" text-anchor="middle" fill="#111" >MFS2</text>
<rect x="564.3" y="545.6" width="43.0" height="11.399999999999977" fill="#ffffff" />
<text x="585.8" y="554.5" font-size="10.4" text-anchor="middle" fill="#111" >SB2/TS2</text>
<rect x="571.2" y="611.6" width="29.399999999999977" height="11.0" fill="#ffffff" />
<text x="585.9000000000001" y="620.8" font-size="10.4" text-anchor="middle" fill="#111" >MFS1</text>
<rect x="564.3" y="660.8" width="43.200000000000045" height="11.200000000000045" fill="#ffffff" />
<text x="585.9" y="669.6" font-size="10.4" text-anchor="middle" fill="#111" >SB1/TS1</text>
</svg>
</body></html>
